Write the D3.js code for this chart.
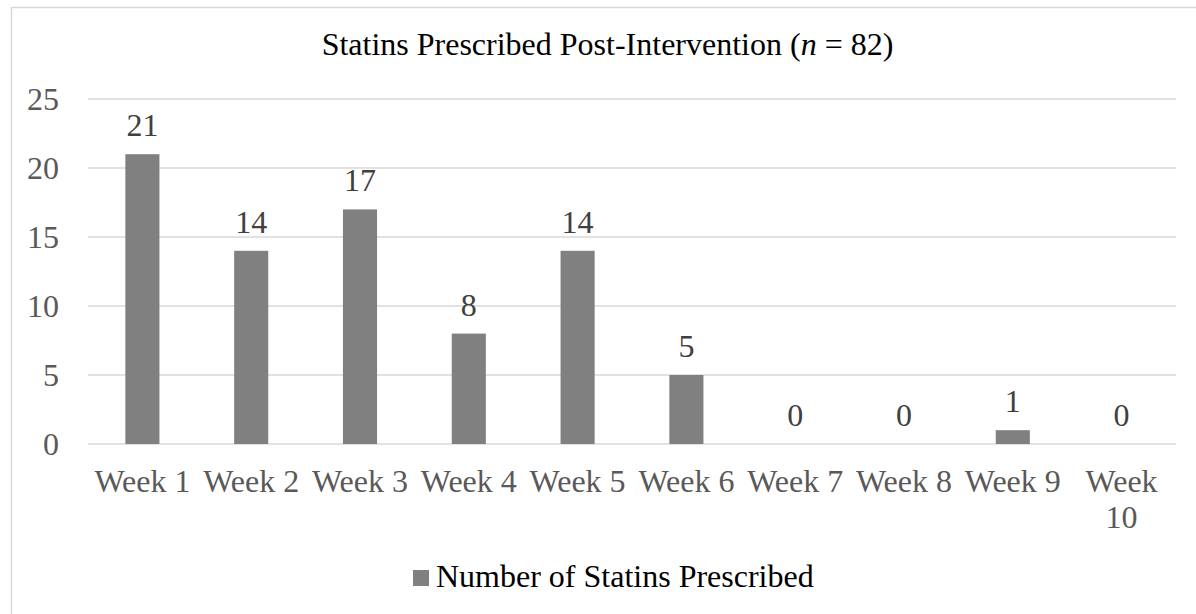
<!DOCTYPE html>
<html>
<head>
<meta charset="utf-8">
<script src="https://cdn.jsdelivr.net/npm/d3@7"></script>
<style>
  html, body { margin: 0; padding: 0; background: #fff; }
  svg { display: block; font-family: "Liberation Serif", "Times New Roman", serif; }
</style>
</head>
<body>
<svg id="chart" width="1196" height="614"></svg>
<script>
const categories = ["Week 1", "Week 2", "Week 3", "Week 4", "Week 5", "Week 6", "Week 7", "Week 8", "Week 9", "Week 10"];
const values = [21, 14, 17, 8, 14, 5, 0, 0, 1, 0];
const yTicks = [0, 5, 10, 15, 20, 25];
const seriesName = "Number of Statins Prescribed";

const svg = d3.select("#chart");
const W = 1196, H = 614;
const plot = { left: 88, right: 1176, top: 99, bottom: 444 };
const fontSize = 32;

// chart border
svg.append("rect")
  .attr("x", 11.5).attr("y", 7.5)
  .attr("width", W - 11.5 + 10).attr("height", H - 7.5 + 10)
  .attr("fill", "#fff").attr("stroke", "#d9d9d9").attr("stroke-width", 1.5);

const x = d3.scaleBand().domain(categories).range([plot.left, plot.right]).paddingInner(0.6865).paddingOuter(0.34325);
const y = d3.scaleLinear().domain([0, 25]).range([plot.bottom, plot.top]);

// gridlines
svg.append("g").selectAll("line").data(yTicks).join("line")
  .attr("x1", plot.left).attr("x2", plot.right)
  .attr("y1", d => y(d)).attr("y2", d => y(d))
  .attr("stroke", "#d9d9d9").attr("stroke-width", 1.5);

// y axis labels
const yAxis = d3.axisLeft(y).tickValues(yTicks).tickSize(0).tickPadding(0).tickFormat(d3.format("d"));
const gy = svg.append("g").attr("transform", `translate(59,0)`).call(yAxis);
gy.select(".domain").remove();
gy.selectAll("text").attr("font-family", "Liberation Serif").attr("font-size", fontSize).attr("fill", "#595959").attr("dy", "0.33em");

// bars
svg.append("g").selectAll("rect").data(values).join("rect")
  .attr("x", (d, i) => x(categories[i]))
  .attr("width", x.bandwidth())
  .attr("y", d => y(d))
  .attr("height", d => y(0) - y(d))
  .attr("fill", "#808080");

// data labels
svg.append("g").selectAll("text").data(values).join("text")
  .attr("x", (d, i) => x(categories[i]) + x.bandwidth() / 2)
  .attr("y", d => y(d) - 18)
  .attr("text-anchor", "middle")
  .attr("font-size", fontSize).attr("fill", "#404040")
  .text(d => d);

// x axis labels (wrapping)
const step = x.step();
const xl = svg.append("g");
categories.forEach((c, i) => {
  const cx = x(c) + x.bandwidth() / 2;
  const t = xl.append("text").attr("text-anchor", "middle").attr("font-size", fontSize).attr("fill", "#595959");
  t.text(c);
  const w = t.node().getComputedTextLength();
  if (w > step - 4) {
    t.text(null);
    const parts = c.split(" ");
    parts.forEach((p, k) => {
      t.append("tspan").attr("x", cx).attr("y", 492 + k * 36).text(p);
    });
  } else {
    t.attr("x", cx).attr("y", 492);
  }
});

// title
const title = svg.append("text").attr("x", 607.5).attr("y", 55)
  .attr("text-anchor", "middle").attr("font-size", fontSize).attr("fill", "#000");
title.append("tspan").text("Statins Prescribed Post-Intervention (");
title.append("tspan").attr("font-style", "italic").text("n");
title.append("tspan").text(" = 82)");

// legend
const lg = svg.append("g");
lg.append("rect").attr("x", 413).attr("y", 570).attr("width", 16).attr("height", 16).attr("fill", "#808080");
lg.append("text").attr("x", 436).attr("y", 587).attr("font-size", fontSize).attr("fill", "#000").text(seriesName);
</script>
</body>
</html>
